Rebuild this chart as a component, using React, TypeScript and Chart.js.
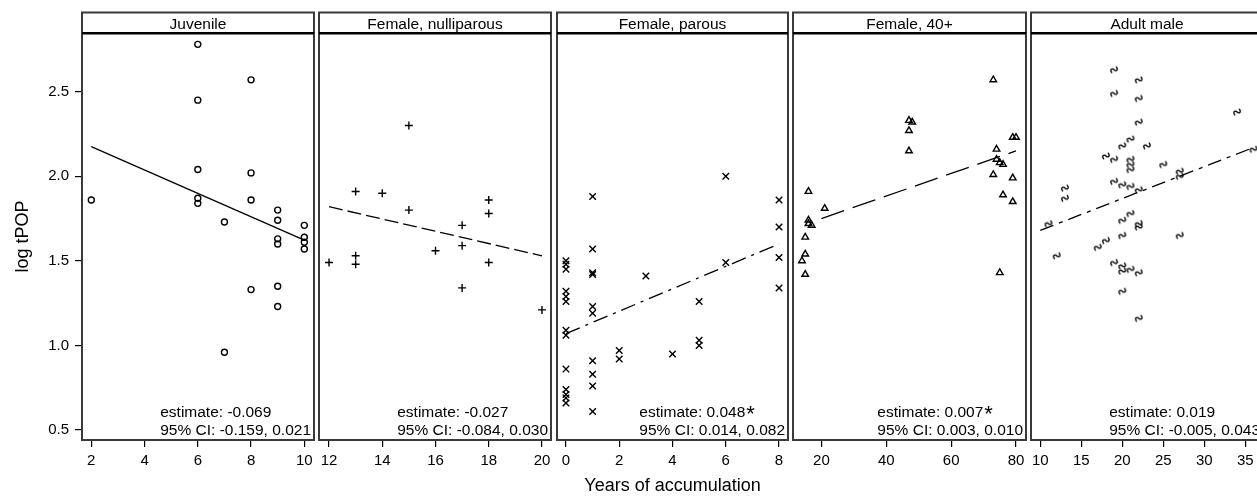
import React, { useEffect, useRef } from 'react';
import { Chart, registerables } from 'chart.js';

Chart.register(...registerables);
Chart.defaults.font.family = '"Liberation Sans", Arial, sans-serif';
Chart.defaults.color = '#000';

// ---------- data ----------
const panelTitles = ['Juvenile', 'Female, nulliparous', 'Female, parous', 'Female, 40+', 'Adult male'];
const estimateLabels = ['estimate: -0.069', 'estimate: -0.027', 'estimate: 0.048', 'estimate: 0.007', 'estimate: 0.019'];
const significant = [false, false, true, true, false];
const ciLabels = ['95% CI: -0.159, 0.021', '95% CI: -0.084, 0.030', '95% CI: 0.014, 0.082', '95% CI: 0.003, 0.010', '95% CI: -0.005, 0.043'];

const yTicks = [0.5, 1.0, 1.5, 2.0, 2.5];
const juvTicks = [2, 4, 6, 8, 10];
const nulTicks = [12, 14, 16, 18, 20];
const parTicks = [0, 2, 4, 6, 8];
const f40Ticks = [20, 40, 60, 80];
const maleTicks = [10, 15, 20, 25, 30, 35];

const juvX = [2, 6, 6, 6, 6, 6, 7, 7, 8, 8, 8, 8, 9, 9, 9, 9, 9, 9, 10, 10, 10, 10];
const juvY = [1.86, 2.78, 2.45, 2.04, 1.87, 1.84, 1.73, 0.96, 2.57, 2.02, 1.86, 1.33, 1.80, 1.74, 1.63, 1.60, 1.35, 1.23, 1.71, 1.64, 1.61, 1.57];
const juvLineX = [2, 10];
const juvLineY = [2.175, 1.623];

const nulX = [12, 13, 13, 13, 14, 15, 15, 16, 17, 17, 17, 18, 18, 18, 20];
const nulY = [1.49, 1.91, 1.53, 1.48, 1.90, 2.30, 1.80, 1.56, 1.71, 1.59, 1.34, 1.86, 1.78, 1.49, 1.21];
const nulLineX = [12, 20];
const nulLineY = [1.82, 1.53];

const parX = [0, 0, 0, 0, 0, 0, 0, 0, 0, 0, 0, 0, 0, 1, 1, 1, 1, 1, 1, 1, 1, 1, 1, 2, 2, 3, 4, 5, 5, 5, 6, 6, 8, 8, 8, 8];
const parY = [1.50, 1.48, 1.45, 1.32, 1.29, 1.26, 1.09, 1.06, 0.86, 0.74, 0.71, 0.69, 0.66, 1.88, 1.57, 1.43, 1.42, 1.23, 1.19, 0.91, 0.83, 0.76, 0.61, 0.97, 0.92, 1.41, 0.95, 1.26, 1.03, 1.00, 2.00, 1.49, 1.86, 1.70, 1.52, 1.34];
const parLineX = [0, 8];
const parLineY = [1.07, 1.60];

const f40X = [14, 15, 15, 15, 16, 16, 16, 17, 21, 47, 47, 47, 48, 73, 73, 74, 74, 75, 75, 76, 76, 79, 79, 79, 80];
const f40Y = [1.50, 1.64, 1.54, 1.42, 1.91, 1.74, 1.72, 1.71, 1.81, 2.33, 2.27, 2.15, 2.32, 2.57, 2.01, 2.16, 2.10, 2.08, 1.43, 2.07, 1.89, 2.23, 1.99, 1.85, 2.23];
const f40LineX = [20, 80];
const f40LineY = [1.75, 2.15];

const maleX = [11, 12, 13, 13, 17, 18, 18, 19, 19, 19, 19, 19, 20, 20, 20, 20, 20, 20, 20, 21, 21, 21, 21, 21, 21, 21, 22, 22, 22, 22, 22, 22, 22, 22, 23, 25, 27, 27, 27, 34, 36];
const maleY = [1.72, 1.53, 1.93, 1.87, 1.58, 2.12, 1.62, 2.63, 2.49, 2.10, 1.97, 1.49, 2.18, 1.95, 1.74, 1.65, 1.47, 1.44, 1.32, 2.22, 2.10, 2.07, 2.04, 1.94, 1.78, 1.45, 2.57, 2.46, 2.32, 1.92, 1.72, 1.70, 1.43, 1.16, 2.18, 2.07, 2.03, 2.00, 1.65, 2.38, 2.16];
const maleLineX = [10, 36];
const maleLineY = [1.68, 2.17];

// ---------- layout ----------
const Y_MIN = 0.441;
const Y_MAX = 2.847;
const PANEL_LEFT = [82, 319, 557, 793, 1031];
const PANEL_RIGHT = [314, 551, 788, 1026, 1263];
const X_MIN = [1.651, 11.623, -0.337, 11.23, 8.866];
const X_MAX = [10.364, 20.339, 8.337, 83.09, 37.16];
const SIDE_PAD = 20;

const FONT = '"Liberation Sans", Arial, sans-serif';

const zip = (xs: number[], ys: number[]) => xs.map((x, i) => ({ x, y: ys[i] }));

const panelData = [
  { xs: juvX, ys: juvY, lx: juvLineX, ly: juvLineY, ticks: juvTicks },
  { xs: nulX, ys: nulY, lx: nulLineX, ly: nulLineY, ticks: nulTicks },
  { xs: parX, ys: parY, lx: parLineX, ly: parLineY, ticks: parTicks },
  { xs: f40X, ys: f40Y, lx: f40LineX, ly: f40LineY, ticks: f40Ticks },
  { xs: maleX, ys: maleY, lx: maleLineX, ly: maleLineY, ticks: maleTicks },
];

const dashes = [[], [14, 5], [15, 6, 3, 6], [24, 9], [14, 6, 4, 6]];

function makeWaveSymbol(): HTMLCanvasElement {
  const c = document.createElement('canvas');
  c.width = 10;
  c.height = 10;
  const g = c.getContext('2d')!;
  g.strokeStyle = '#000';
  g.lineWidth = 1.3;
  g.lineCap = 'round';
  g.translate(5, 5);
  g.rotate(-0.55);
  g.beginPath();
  g.moveTo(-3.5, 1.3);
  g.bezierCurveTo(-3.7, -2.8, -0.5, -2.8, 0, 0);
  g.bezierCurveTo(0.5, 2.8, 3.7, 2.8, 3.5, -1.3);
  g.stroke();
  return c;
}

const facetPlugin = {
  id: 'facet',
  afterDraw(chart: any, _args: any, opts: any) {
    const { ctx, chartArea: a } = chart;
    ctx.save();
    // panel + strip border
    ctx.strokeStyle = '#3a3a3a';
    ctx.lineWidth = 2;
    ctx.strokeRect(a.left, 12.5, a.right - a.left, a.bottom - 12.5);
    // strip separator
    ctx.strokeStyle = '#000';
    ctx.lineWidth = 2.5;
    ctx.beginPath();
    ctx.moveTo(a.left, 33.3);
    ctx.lineTo(a.right, 33.3);
    ctx.stroke();
    // strip title
    ctx.fillStyle = '#000';
    ctx.font = `15.5px ${FONT}`;
    ctx.textAlign = 'center';
    ctx.textBaseline = 'alphabetic';
    ctx.fillText(opts.title, (a.left + a.right) / 2, 29.3);
    // annotation
    ctx.textAlign = 'left';
    const ew = ctx.measureText(opts.est).width;
    const w = Math.max(ew, ctx.measureText(opts.ci).width);
    const x0 = a.right - 3 - w;
    ctx.fillText(opts.est, x0, a.bottom - 23.3);
    ctx.fillText(opts.ci, x0, a.bottom - 5);
    if (opts.star) {
      ctx.font = `22px ${FONT}`;
      ctx.fillText('*', x0 + ew + 1, a.bottom - 19.5);
    }
    ctx.restore();
  },
};

function Panel({ index }: { index: number }) {
  const ref = useRef<HTMLCanvasElement | null>(null);
  const left = index === 0 ? 0 : PANEL_LEFT[index] - SIDE_PAD;
  const width = PANEL_RIGHT[index] + SIDE_PAD - left;

  useEffect(() => {
    if (!ref.current) return;
    const d = panelData[index];
    const styles: any[] = ['circle', 'cross', 'crossRot', 'triangle', makeWaveSymbol()];
    const radii = [3, 4, 4.6, 3.8, 5];
    const tickFont = { size: 15, family: FONT };

    const xScale: any = {
      type: 'linear',
      min: X_MIN[index],
      max: X_MAX[index],
      afterBuildTicks: (s: any) => {
        s.ticks = d.ticks.map((v) => ({ value: v }));
      },
      afterFit: (s: any) => {
        s.height = 57;
      },
      ticks: { font: tickFont, color: '#000', padding: 5, maxRotation: 0, autoSkip: false },
      grid: { display: true, drawOnChartArea: false, drawTicks: true, tickLength: 7, color: '#000', lineWidth: 1.2 },
      border: { display: false },
      title:
        index === 2
          ? { display: true, text: 'Years of accumulation', font: { size: 18, family: FONT }, color: '#000', padding: { top: 0, bottom: 0 } }
          : { display: false },
    };

    const yScale: any =
      index === 0
        ? {
            type: 'linear',
            min: Y_MIN,
            max: Y_MAX,
            afterBuildTicks: (s: any) => {
              s.ticks = yTicks.map((v) => ({ value: v }));
            },
            afterFit: (s: any) => {
              s.width = PANEL_LEFT[0];
            },
            ticks: { font: tickFont, color: '#000', padding: 6, callback: (v: any) => Number(v).toFixed(1) },
            grid: { display: true, drawOnChartArea: false, drawTicks: true, tickLength: 7, color: '#000', lineWidth: 1.2 },
            border: { display: false },
            title: { display: true, text: 'log tPOP', font: { size: 18, family: FONT }, color: '#000', padding: { top: 12, bottom: 0 } },
          }
        : { type: 'linear', display: false, min: Y_MIN, max: Y_MAX };

    const chart = new Chart(ref.current, {
      type: 'scatter',
      data: {
        datasets: [
          {
            data: zip(d.xs, d.ys),
            pointStyle: styles[index],
            pointRadius: radii[index],
            borderColor: '#000',
            backgroundColor: 'rgba(0,0,0,0)',
            pointBorderWidth: 1.4,
            borderWidth: 1.4,
            showLine: false,
          },
          {
            data: zip(d.lx, d.ly),
            showLine: true,
            borderColor: '#000',
            borderWidth: 1.3,
            borderDash: dashes[index],
            pointRadius: 0,
            fill: false,
          },
        ],
      } as any,
      options: {
        responsive: false,
        animation: false,
        devicePixelRatio: 1,
        layout: { padding: { left: index === 0 ? 0 : SIDE_PAD, right: SIDE_PAD, top: 33, bottom: 0 } },
        plugins: {
          legend: { display: false },
          tooltip: { enabled: false },
          facet: {
            title: panelTitles[index],
            est: estimateLabels[index],
            ci: ciLabels[index],
            star: significant[index],
          },
        } as any,
        scales: { x: xScale, y: yScale },
      },
      plugins: [facetPlugin as any],
    });
    return () => chart.destroy();
  }, [index]);

  return (
    <canvas
      ref={ref}
      width={width}
      height={497}
      style={{ position: 'absolute', left, top: 0, width, height: 497 }}
    />
  );
}

export default function App() {
  return (
    <div
      style={{
        position: 'fixed',
        left: 0,
        top: 0,
        width: 1257,
        height: 497,
        overflow: 'hidden',
        background: '#fff',
      }}
    >
      {[0, 1, 2, 3, 4].map((i) => (
        <Panel key={i} index={i} />
      ))}
    </div>
  );
}
